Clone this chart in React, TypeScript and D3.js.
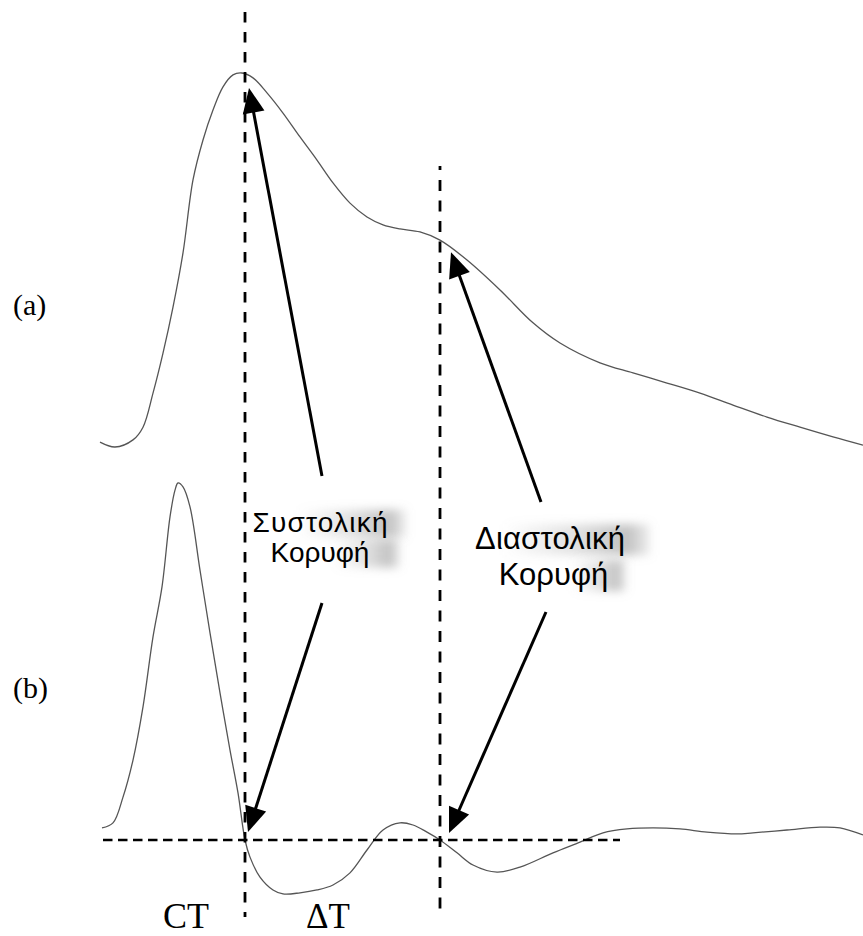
import React from "react";
import * as d3 from "d3";

// Pulse waveform (a): time in samples, amplitude normalised to the systolic peak
const pulseTime = [0, 15, 33, 43, 53, 63, 73, 83, 93, 103, 113, 123, 133, 142, 153, 167, 183, 200, 217, 233, 250, 267, 283, 300, 320, 340, 367, 400, 433, 460, 500, 533, 567, 600, 633, 667, 700, 733, 763];
const pulseValue = [0.013, 0, 0.019, 0.053, 0.144, 0.251, 0.374, 0.519, 0.714, 0.821, 0.901, 0.963, 0.995, 1.0, 0.987, 0.947, 0.893, 0.829, 0.767, 0.706, 0.652, 0.615, 0.594, 0.583, 0.575, 0.553, 0.5, 0.42, 0.332, 0.278, 0.225, 0.198, 0.171, 0.144, 0.112, 0.08, 0.053, 0.027, 0.005];

// First derivative (b) of the same pulse, normalised to its maximum
const derivTime = [2, 13, 23, 33, 43, 53, 62, 70, 75, 78, 83, 90, 100, 110, 120, 130, 138, 145, 150, 160, 173, 183, 200, 217, 233, 250, 267, 283, 300, 313, 327, 340, 357, 373, 397, 420, 453, 480, 503, 527, 553, 580, 607, 637, 653, 687, 720, 740, 763];
const derivValue = [0.034, 0.048, 0.12, 0.224, 0.373, 0.569, 0.709, 0.905, 0.98, 1.0, 0.989, 0.933, 0.756, 0.58, 0.412, 0.252, 0.132, 0, -0.048, -0.104, -0.14, -0.151, -0.148, -0.14, -0.126, -0.092, -0.028, 0.028, 0.048, 0.042, 0.022, 0, -0.036, -0.07, -0.09, -0.076, -0.036, -0.006, 0.02, 0.031, 0.034, 0.031, 0.022, 0.017, 0.02, 0.028, 0.036, 0.034, 0.014];

// Zero crossings of the derivative: systolic and diastolic peaks
const systolicT = 145;
const diastolicT = 340;
const baselineEndT = 520;

const panelLabels = ["(a)", "(b)"];
const systolicLabel = ["Συστολική", "Κορυφή"];
const diastolicLabel = ["Διαστολική", "Κορυφή"];
const intervalLabels = ["CT", "ΔT"];

const W = 863;
const H = 936;
const SANS = "Liberation Sans, Arial, sans-serif";
const SERIF = "Liberation Serif, Times New Roman, serif";

function Arrow({ from, to }: { from: [number, number]; to: [number, number] }) {
  const dx = to[0] - from[0];
  const dy = to[1] - from[1];
  const len = Math.hypot(dx, dy);
  const ux = dx / len;
  const uy = dy / len;
  const headL = 25;
  const headW = 11;
  const bx = to[0] - ux * headL;
  const by = to[1] - uy * headL;
  const px = -uy;
  const py = ux;
  const pts = [
    [to[0], to[1]],
    [bx + px * headW, by + py * headW],
    [bx - px * headW, by - py * headW],
  ];
  return (
    <g>
      <line x1={from[0]} y1={from[1]} x2={bx + ux * 4} y2={by + uy * 4} stroke="#000" strokeWidth={3} />
      <polygon points={pts.map((p) => p.join(",")).join(" ")} fill="#000" />
    </g>
  );
}

type LabelLine = { text: string; cx: number; y: number; len?: number; haze: [number, number] };

function HazyLabel({ id, lines, size }: { id: string; lines: LabelLine[]; size: number }) {
  return (
    <g>
      <defs>
        {lines.map((l, i) => (
          <linearGradient key={i} id={`${id}-g${i}`} gradientUnits="userSpaceOnUse" x1={l.haze[0]} x2={l.haze[1]} y1={0} y2={0}>
            <stop offset="0" stopColor="#999" stopOpacity={0} />
            <stop offset="0.5" stopColor="#999" stopOpacity={0.3} />
            <stop offset="0.85" stopColor="#999" stopOpacity={0.6} />
            <stop offset="1" stopColor="#999" stopOpacity={0.15} />
          </linearGradient>
        ))}
      </defs>
      {lines.map((l, i) => (
        <rect
          key={"h" + i}
          x={l.haze[0]}
          y={l.y - size * 0.8}
          width={l.haze[1] - l.haze[0]}
          height={size * 1.0}
          fill={`url(#${id}-g${i})`}
          filter="url(#haze)"
        />
      ))}
      {lines.map((l, i) => (
        <text
          key={"t" + i}
          x={l.cx}
          y={l.y}
          textAnchor="middle"
          fontFamily={SANS}
          fontSize={size}
          textLength={l.len}
          lengthAdjust={l.len ? "spacing" : undefined}
          fill="#000"
        >
          {l.text}
        </text>
      ))}
    </g>
  );
}

export default function App() {
  const x = d3.scaleLinear().domain([0, 763]).range([100, 863]);
  const yA = d3.scaleLinear().domain([0, 1]).range([447, 73]);
  const yB = d3.scaleLinear().domain([0, 1]).range([840, 483]);

  const lineA = d3
    .line<number>()
    .x((_, i) => x(pulseTime[i]))
    .y((v) => yA(v))
    .curve(d3.curveCatmullRom.alpha(0.5));
  const lineB = d3
    .line<number>()
    .x((_, i) => x(derivTime[i]))
    .y((v) => yB(v))
    .curve(d3.curveCatmullRom.alpha(0.5));

  const xs = x(systolicT);
  const xd = x(diastolicT);
  const y0 = yB(0);
  const diaPulse = d3.scaleLinear().domain(pulseTime).range(pulseValue)(diastolicT);

  const sysLines: LabelLine[] = [
    { text: systolicLabel[0], cx: 320, y: 532, len: 135, haze: [298, 406] },
    { text: systolicLabel[1], cx: 320, y: 562, haze: [334, 400] },
  ];
  const diaLines: LabelLine[] = [
    { text: diastolicLabel[0], cx: 550, y: 549, len: 150, haze: [503, 650] },
    { text: diastolicLabel[1], cx: 553.5, y: 585, haze: [572, 626] },
  ];

  return (
    <svg
      width={W}
      height={H}
      viewBox={`0 0 ${W} ${H}`}
      style={{ position: "absolute", left: 0, top: 0, background: "#fff" }}
    >
      <defs>
        <filter id="haze" x="-30%" y="-80%" width="160%" height="260%">
          <feGaussianBlur stdDeviation={5} />
        </filter>
      </defs>

      <rect x={0} y={0} width={W} height={H} fill="#fff" />

      {/* waveforms */}
      <path d={lineA(pulseValue) || ""} fill="none" stroke="#555" strokeWidth={1.3} />
      <path d={lineB(derivValue) || ""} fill="none" stroke="#555" strokeWidth={1.3} />

      {/* event markers */}
      <line x1={xs} x2={xs} y1={12} y2={917} stroke="#000" strokeWidth={2.8} strokeDasharray="10.5 9.5" />
      <line x1={xd} x2={xd} y1={166} y2={170} stroke="#000" strokeWidth={2.8} />
      <line x1={xd} x2={xd} y1={180} y2={917} stroke="#000" strokeWidth={2.8} strokeDasharray="11 9.5" />
      <line x1={x(3)} x2={x(baselineEndT)} y1={y0} y2={y0} stroke="#000" strokeWidth={2.6} strokeDasharray="9.5 5.5" />

      {/* labels with arrows */}
      <HazyLabel id="sys" lines={sysLines} size={28} />
      <HazyLabel id="dia" lines={diaLines} size={31} />

      <Arrow from={[322, 476]} to={[xs + 4, yA(1) + 15]} />
      <Arrow from={[322, 603]} to={[xs + 3, y0 - 8]} />
      <Arrow from={[541, 502]} to={[xd + 11, yA(diaPulse) + 12]} />
      <Arrow from={[546, 612]} to={[xd + 9, y0 - 7]} />

      {/* panel and interval labels */}
      <text x={13} y={315} fontFamily={SERIF} fontSize={30} fill="#000">
        {panelLabels[0]}
      </text>
      <text x={13} y={698} fontFamily={SERIF} fontSize={30} fill="#000">
        {panelLabels[1]}
      </text>
      <text x={163} y={928} fontFamily={SERIF} fontSize={36} fill="#000">
        {intervalLabels[0]}
      </text>
      <text x={306} y={928} fontFamily={SERIF} fontSize={35} fill="#000">
        {intervalLabels[1]}
      </text>
    </svg>
  );
}
